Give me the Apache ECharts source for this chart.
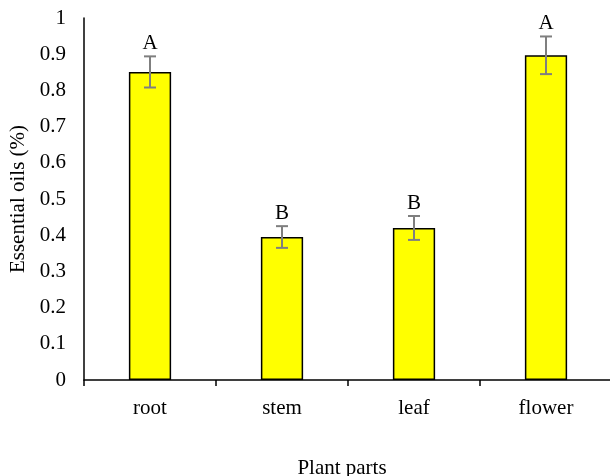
<!DOCTYPE html>
<html><head><meta charset="utf-8">
<script src="https://cdn.jsdelivr.net/npm/echarts@6/dist/echarts.min.js"></script>
<style>html,body{margin:0;padding:0;background:#fff}#c{width:610px;height:476px}</style>
</head><body><div id="c"></div>
<script>
const categories = ['root', 'stem', 'leaf', 'flower'];
const oilValues = [0.851, 0.395, 0.42, 0.897];
const oilErrors = [0.043, 0.03, 0.033, 0.052];
const groupLetters = ['A', 'B', 'B', 'A'];
const yTicks = [0, 0.1, 0.2, 0.3, 0.4, 0.5, 0.6, 0.7, 0.8, 0.9, 1];

const FONT = 'Liberation Serif';
const FS = 21;
const chart = echarts.init(document.getElementById('c'), null, {renderer: 'canvas'});

const errData = categories.map((c, i) => [i, oilValues[i], oilErrors[i], groupLetters[i]]);

chart.setOption({
  animation: false,
  grid: {left: 84, top: 18, width: 528, height: 362, containLabel: false, outerBoundsMode: 'none'},
  xAxis: {
    type: 'category', data: categories,
    name: 'Plant parts', nameLocation: 'middle', nameGap: 78,
    nameTextStyle: {fontFamily: FONT, fontSize: FS, color: '#000', padding: [0, 0, 0, -12]},
    axisLine: {lineStyle: {color: '#000', width: 1.5}},
    axisTick: {show: true, length: 6, lineStyle: {color: '#000', width: 1.5}},
    axisLabel: {fontFamily: FONT, fontSize: FS, color: '#000', margin: 18}
  },
  yAxis: {
    type: 'value', min: 0, max: 1, interval: 0.1,
    name: 'Essential oils (%)', nameLocation: 'middle', nameGap: 53,
    nameTextStyle: {fontFamily: FONT, fontSize: FS, color: '#000'},
    axisLine: {show: true, lineStyle: {color: '#000', width: 1.5}},
    axisTick: {show: false},
    splitLine: {show: false},
    axisLabel: {fontFamily: FONT, fontSize: FS, color: '#000', margin: 18,
      formatter: v => { const t = yTicks.find(x => Math.abs(x - v) < 1e-9); return t === undefined ? '' : String(t); }}
  },
  series: [
    {
      type: 'bar', data: oilValues, barWidth: '32%',
      itemStyle: {color: '#FFFF00', borderColor: '#000', borderWidth: 1.5}
    },
    {
      type: 'custom', data: errData, z: 10,
      renderItem: function (params, api) {
        const i = api.value(0), v = api.value(1), e = api.value(2);
        const top = api.coord([i, v + e]);
        const bot = api.coord([i, v - e]);
        const hw = 6;
        const col = '#7f7f7f';
        return {
          type: 'group',
          children: [
            {type: 'line', shape: {x1: top[0], y1: top[1], x2: bot[0], y2: bot[1]}, style: {stroke: col, lineWidth: 2}},
            {type: 'line', shape: {x1: top[0] - hw, y1: top[1], x2: top[0] + hw, y2: top[1]}, style: {stroke: col, lineWidth: 2}},
            {type: 'line', shape: {x1: bot[0] - hw, y1: bot[1], x2: bot[0] + hw, y2: bot[1]}, style: {stroke: col, lineWidth: 2}},
            {type: 'text', x: top[0], y: top[1] - 2, style: {text: groupLetters[params.dataIndex], font: FS + 'px "' + FONT + '"', fill: '#000', align: 'center', verticalAlign: 'bottom'}}
          ]
        };
      }
    }
  ]
});
</script></body></html>
